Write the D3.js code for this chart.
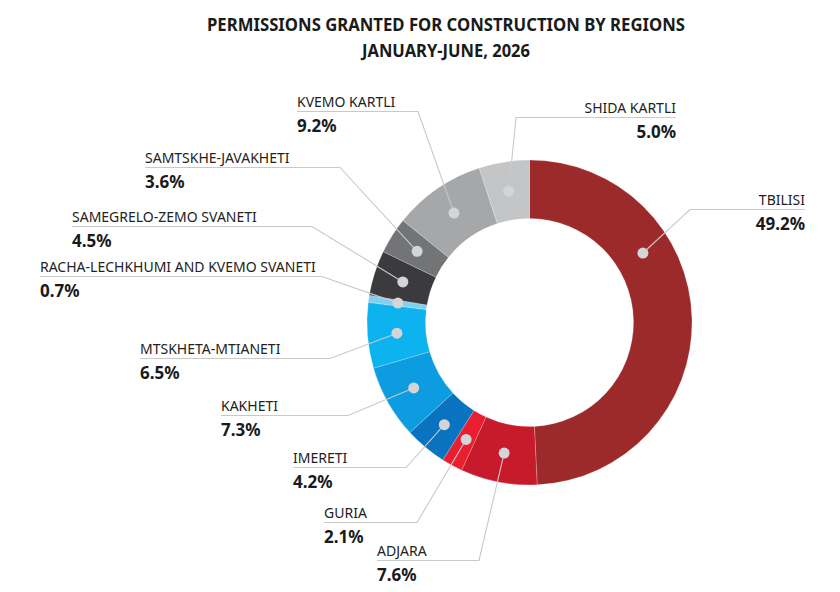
<!DOCTYPE html>
<html>
<head>
<meta charset="utf-8">
<script src="https://cdn.jsdelivr.net/npm/d3@7"></script>
<style>
  body { margin: 0; background: #fff; }
  text { font-family: "Noto Sans", "Open Sans", sans-serif; fill: #1a1a1a; }
  .title { font-weight: 700; font-size: 18px; }
  .name { font-size: 14px; fill: #222; }
  .value { font-size: 17px; font-weight: 700; }
</style>
</head>
<body>
<svg id="chart" width="840" height="592"></svg>
<script>
// data
const regions = ["TBILISI", "ADJARA", "GURIA", "IMERETI", "KAKHETI", "MTSKHETA-MTIANETI",
  "RACHA-LECHKHUMI AND KVEMO SVANETI", "SAMEGRELO-ZEMO SVANETI", "SAMTSKHE-JAVAKHETI",
  "KVEMO KARTLI", "SHIDA KARTLI"]
const shares = [49.2, 7.6, 2.1, 4.2, 7.3, 6.5, 0.7, 4.5, 3.6, 9.2, 5.0]
const colors = ["#9c2a2b", "#c71a2b", "#e91f31", "#0a73bf", "#0d9ce0", "#0db3ef",
  "#80d0f1", "#3b3b3d", "#737476", "#a6a7a9", "#c3c5c7"]

// label placement: text x, name baseline, anchor, x where underline meets leader
const labelPos = [
  { x: 805, y: 205, anchor: "end", elbow: 690 },
  { x: 377, y: 556, anchor: "start", elbow: 479 },
  { x: 324, y: 518, anchor: "start", elbow: 417 },
  { x: 293, y: 463, anchor: "start", elbow: 406 },
  { x: 221, y: 411, anchor: "start", elbow: 348 },
  { x: 140, y: 354, anchor: "start", elbow: 330 },
  { x: 40, y: 272, anchor: "start", elbow: 322 },
  { x: 72, y: 222, anchor: "start", elbow: 312 },
  { x: 145, y: 163, anchor: "start", elbow: 340 },
  { x: 297, y: 107, anchor: "start", elbow: 418 },
  { x: 676, y: 113, anchor: "end", elbow: 516 }
]

const svg = d3.select("#chart")

// title
svg.append("text").attr("class", "title")
  .attr("x", 446).attr("y", 31)
  .attr("text-anchor", "middle")
  .attr("textLength", 478).attr("lengthAdjust", "spacingAndGlyphs")
  .text("PERMISSIONS GRANTED FOR CONSTRUCTION BY REGIONS")
svg.append("text").attr("class", "title")
  .attr("x", 446).attr("y", 57)
  .attr("text-anchor", "middle")
  .attr("textLength", 168).attr("lengthAdjust", "spacingAndGlyphs")
  .text("JANUARY-JUNE, 2026")

const data = regions.map((r, i) => ({ region: r, share: shares[i], color: colors[i], pos: labelPos[i] }))

const cx = 529.5, cy = 322.5
const outerR = 162.5, innerR = 104

const pie = d3.pie().sort(null).value(d => d.share)
const arc = d3.arc().innerRadius(innerR).outerRadius(outerR)
const dotArc = d3.arc().innerRadius(133).outerRadius(133)

const g = svg.append("g").attr("transform", `translate(${cx},${cy})`)
const arcs = pie(data)

g.selectAll("path.slice")
  .data(arcs)
  .enter()
  .append("path")
  .attr("class", "slice")
  .attr("d", arc)
  .attr("fill", d => d.data.color)
  .attr("stroke", "#ffffff")
  .attr("stroke-opacity", 0.35)
  .attr("stroke-width", 0.6)

// dot on each slice; tbilisi's dot sits higher up its slice
function dotPoint(d, i) {
  let a = (d.startAngle + d.endAngle) / 2
  if (i === 0) a = d.startAngle + (d.endAngle - d.startAngle) * 0.33
  return [cx + 133 * Math.sin(a), cy - 133 * Math.cos(a)]
}

const labels = svg.append("g")

arcs.forEach(function (d, i) {
  const p = d.data.pos
  const dot = dotPoint(d, i)
  const lineY = p.y + 4.5
  const far = p.anchor === "start" ? p.x : p.x

  labels.append("polyline")
    .attr("points", [[far, lineY], [p.elbow, lineY], dot].map(q => q.join(",")).join(" "))
    .attr("fill", "none")
    .attr("stroke", "#c9c9c9")
    .attr("stroke-width", 1.1)

  labels.append("circle")
    .attr("cx", dot[0]).attr("cy", dot[1])
    .attr("r", 5.5)
    .attr("fill", "#d4d5d8")

  labels.append("text").attr("class", "name")
    .attr("x", p.x).attr("y", p.y)
    .attr("text-anchor", p.anchor)
    .text(d.data.region)

  labels.append("text").attr("class", "value")
    .attr("x", p.x).attr("y", p.y + 25)
    .attr("text-anchor", p.anchor)
    .text(d3.format(".1f")(d.data.share) + "%")
})
</script>
</body>
</html>
